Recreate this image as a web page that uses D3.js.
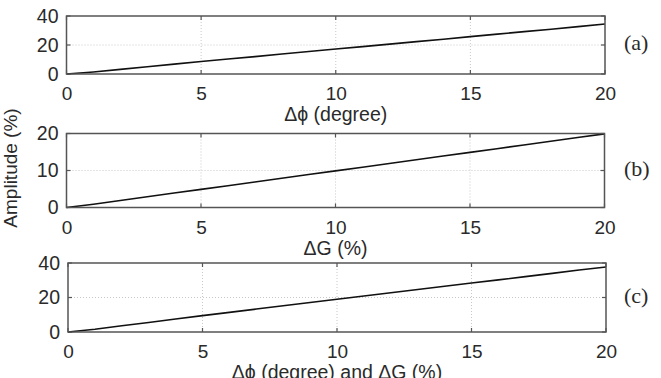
<!DOCTYPE html>
<html>
<head>
<meta charset="utf-8">
<script src="https://cdn.jsdelivr.net/npm/d3@7"></script>
<style>
  body { margin: 0; background: #fff; }
  svg { display: block; }
</style>
</head>
<body>
<svg id="chart" width="661" height="378"></svg>
<script>
// x values shared by all three panels
const xValues = [0, 1, 2, 3, 4, 5, 6, 7, 8, 9, 10, 11, 12, 13, 14, 15, 16, 17, 18, 19, 20];
// (a) amplitude vs phase error
const ampPhase = [0, 1.4, 3.2, 5.0, 6.8, 8.6, 10.3, 12.0, 13.8, 15.5, 17.2, 18.9, 20.6, 22.3, 24.0, 25.8, 27.5, 29.2, 30.9, 32.7, 34.5];
// (b) amplitude vs gain error
const ampGain = [0, 0.9, 1.9, 2.9, 3.9, 4.9, 5.9, 6.9, 7.9, 8.9, 9.9, 10.9, 11.9, 12.9, 13.9, 14.9, 15.9, 16.9, 17.9, 18.9, 19.9];
// (c) amplitude vs both
const ampBoth = [0, 1.6, 3.6, 5.5, 7.5, 9.5, 11.4, 13.3, 15.2, 17.1, 19.0, 20.9, 22.8, 24.6, 26.5, 28.4, 30.2, 32.1, 34.0, 35.9, 37.7];

const xTicks = [0, 5, 10, 15, 20];
const yTicksA = [0, 20, 40];
const yTicksB = [0, 10, 20];
const yTicksC = [0, 20, 40];
const xLabels = ["\u0394\u03d5 (degree)", "\u0394G (%)", "\u0394\u03d5 (degree) and \u0394G (%)"];
const panelTags = ["(a)", "(b)", "(c)"];
const yLabel = "Amplitude (%)";

const panels = [
  { values: ampPhase, yTicks: yTicksA, yMax: 40, left: 66.5, right: 605, top: 16, bottom: 74 },
  { values: ampGain,  yTicks: yTicksB, yMax: 20, left: 66.5, right: 604.5, top: 133.5, bottom: 207.5 },
  { values: ampBoth,  yTicks: yTicksC, yMax: 40, left: 68, right: 606, top: 263, bottom: 332 }
];

const svg = d3.select("#chart");
const sans = "'Liberation Sans', Arial, sans-serif";
const serif = "'Liberation Serif', 'Times New Roman', serif";
const textColor = "#2a2a2a";

panels.forEach((p, i) => {
  const x = d3.scaleLinear().domain([0, 20]).range([p.left, p.right]);
  const y = d3.scaleLinear().domain([0, p.yMax]).range([p.bottom, p.top]);
  const g = svg.append("g");

  // dotted grid
  g.selectAll(".gx").data(xTicks.slice(1, -1)).enter().append("line")
    .attr("x1", d => x(d)).attr("x2", d => x(d))
    .attr("y1", p.top).attr("y2", p.bottom)
    .attr("stroke", "#c8c8c8").attr("stroke-width", 1)
    .attr("stroke-dasharray", "1,2");
  g.selectAll(".gy").data(p.yTicks.slice(1, -1)).enter().append("line")
    .attr("x1", p.left).attr("x2", p.right)
    .attr("y1", d => y(d)).attr("y2", d => y(d))
    .attr("stroke", "#c8c8c8").attr("stroke-width", 1)
    .attr("stroke-dasharray", "1,2");

  // inward ticks on all four sides
  const tl = 4;
  xTicks.forEach(t => {
    g.append("line").attr("x1", x(t)).attr("x2", x(t)).attr("y1", p.bottom).attr("y2", p.bottom - tl)
      .attr("stroke", "#555").attr("stroke-width", 1.2);
    g.append("line").attr("x1", x(t)).attr("x2", x(t)).attr("y1", p.top).attr("y2", p.top + tl)
      .attr("stroke", "#555").attr("stroke-width", 1.2);
  });
  p.yTicks.forEach(t => {
    g.append("line").attr("x1", p.left).attr("x2", p.left + tl).attr("y1", y(t)).attr("y2", y(t))
      .attr("stroke", "#555").attr("stroke-width", 1.2);
    g.append("line").attr("x1", p.right).attr("x2", p.right - tl).attr("y1", y(t)).attr("y2", y(t))
      .attr("stroke", "#555").attr("stroke-width", 1.2);
  });

  // data line
  const line = d3.line().x((d, k) => x(xValues[k])).y(d => y(d));
  g.append("path").datum(p.values)
    .attr("d", line)
    .attr("fill", "none")
    .attr("stroke", "#111")
    .attr("stroke-width", 1.6);

  // frame
  g.append("rect")
    .attr("x", p.left).attr("y", p.top)
    .attr("width", p.right - p.left).attr("height", p.bottom - p.top)
    .attr("fill", "none").attr("stroke", "#555").attr("stroke-width", 1.5);

  // tick labels
  g.append("g")
    .attr("transform", `translate(0,${p.bottom})`)
    .call(d3.axisBottom(x).tickValues(xTicks).tickSize(0).tickPadding(13))
    .call(s => s.select(".domain").remove())
    .selectAll("text")
    .attr("font-family", sans).attr("font-size", 19).attr("fill", textColor);

  g.append("g")
    .attr("transform", `translate(${p.left},0)`)
    .call(d3.axisLeft(y).tickValues(p.yTicks).tickSize(0).tickPadding(8))
    .call(s => s.select(".domain").remove())
    .selectAll("text")
    .attr("font-family", sans).attr("font-size", 19.5).attr("fill", textColor);

  // x label
  g.append("text")
    .attr("x", (p.left + p.right) / 2)
    .attr("y", p.bottom + 47)
    .attr("text-anchor", "middle")
    .attr("font-family", sans).attr("font-size", 19.5).attr("fill", textColor)
    .text(xLabels[i]);

  // panel tag
  g.append("text")
    .attr("x", 624)
    .attr("y", (p.top + p.bottom) / 2 + 5)
    .attr("font-family", serif).attr("font-size", 22).attr("fill", textColor)
    .text(panelTags[i]);
});

svg.append("text")
  .attr("transform", "translate(17,168) rotate(-90)")
  .attr("text-anchor", "middle")
  .attr("font-family", sans).attr("font-size", 19).attr("fill", textColor)
  .text(yLabel);
</script>
</body>
</html>
